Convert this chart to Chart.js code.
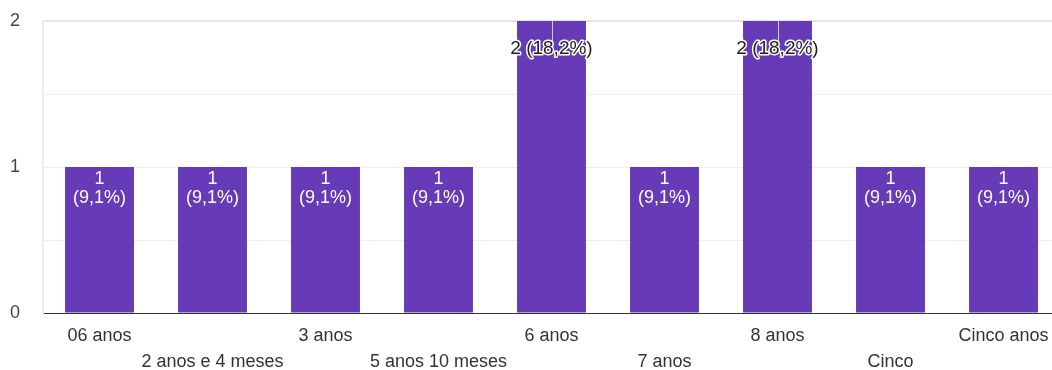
<!DOCTYPE html>
<html>
<head>
<meta charset="utf-8">
<script src="https://cdn.jsdelivr.net/npm/chart.js@4"></script>
<style>
  html, body { margin: 0; padding: 0; background: #fff; overflow: hidden; }
  #wrap { position: relative; width: 1062px; height: 370px; }
</style>
</head>
<body>
<div id="wrap"><canvas id="chart"></canvas></div>
<script>
// Respostas por idade
const categories = ['06 anos', '2 anos e 4 meses', '3 anos', '5 anos 10 meses', '6 anos', '7 anos', '8 anos', 'Cinco', 'Cinco anos'];
const counts = [1, 1, 1, 1, 2, 1, 2, 1, 1];
const yTicks = [0, 1, 2];

const total = counts.reduce((a, b) => a + b, 0);
const pct = v => (v / total * 100).toFixed(1).replace('.', ',');

const FONT = '"Liberation Sans", Arial, Helvetica, sans-serif';
const PURPLE = '#673ab7';

// Value annotations: inside the bar when there is room for two lines,
// otherwise a single haloed line with a thin stem from the bar top.
const barLabels = {
  id: 'barLabels',
  afterDatasetsDraw(chart) {
    const ctx = chart.ctx;
    const meta = chart.getDatasetMeta(0);
    const yMax = chart.scales.y.max;
    ctx.save();
    ctx.textAlign = 'center';
    ctx.textBaseline = 'middle';
    meta.data.forEach((bar, i) => {
      const v = counts[i];
      const x = bar.x, top = bar.y;
      if (v < yMax) {
        ctx.font = '18px ' + FONT;
        ctx.fillStyle = '#ffffff';
        ctx.fillText(String(v), x, top + 12);
        ctx.fillText('(' + pct(v) + '%)', x, top + 31);
      } else {
        const text = v + ' (' + pct(v) + '%)';
        const cy = top + 28;
        ctx.strokeStyle = 'rgba(220,220,230,0.9)';
        ctx.lineWidth = 1;
        ctx.beginPath();
        ctx.moveTo(Math.round(x) + 0.5, top);
        ctx.lineTo(Math.round(x) + 0.5, cy - 8);
        ctx.stroke();
        ctx.font = '19px ' + FONT;
        ctx.lineJoin = 'round';
        ctx.lineWidth = 3;
        ctx.strokeStyle = '#ffffff';
        ctx.strokeText(text, x, cy);
        ctx.fillStyle = '#222222';
        ctx.fillText(text, x, cy);
      }
    });
    ctx.restore();
  }
};

new Chart(document.getElementById('chart'), {
  type: 'bar',
  data: {
    labels: categories,
    datasets: [{
      data: counts,
      backgroundColor: PURPLE,
      borderWidth: 0,
      barPercentage: 0.61,
      categoryPercentage: 1
    }]
  },
  options: {
    responsive: true,
    maintainAspectRatio: false,
    animation: false,
    events: [],
    layout: { padding: { top: 21, right: 2, left: 0, bottom: 0 } },
    plugins: { legend: { display: false }, tooltip: { enabled: false } },
    scales: {
      x: {
        offset: true,
        grid: { display: false, drawTicks: false },
        border: { display: true, color: '#333333', width: 1 },
        afterFit(scale) { scale.height = 57; },
        ticks: {
          autoSkip: false,
          maxRotation: 0,
          minRotation: 0,
          padding: 10,
          color: '#333333',
          font: { family: FONT, size: 18, lineHeight: '26px' },
          callback(value, index) {
            const label = categories[index];
            return index % 2 === 0 ? [label] : ['', label];
          }
        }
      },
      y: {
        min: 0,
        max: 2,
        afterFit(scale) {
          scale.width = 43;
          scale.paddingTop = 0;
          scale.paddingBottom = 0;
        },
        afterBuildTicks(scale) {
          const ticks = [];
          for (let v = 0; v <= 2; v += 0.5) ticks.push({ value: v });
          scale.ticks = ticks;
        },
        grid: {
          drawTicks: false,
          color: ctx => ctx.tick && ctx.tick.value === 0 ? '#333333' : (ctx.tick && ctx.tick.value === 2 ? '#e4e4e4' : '#eeeeee'),
          lineWidth: ctx => ctx.tick && ctx.tick.value === 2 ? 2 : 1
        },
        border: { display: true, color: '#eeeeee', width: 2 },
        ticks: {
          padding: 23,
          color: '#444444',
          font: { family: FONT, size: 18 },
          callback(value) { return yTicks.includes(value) ? String(value) : ''; }
        }
      }
    }
  },
  plugins: [barLabels]
});
</script>
</body>
</html>
